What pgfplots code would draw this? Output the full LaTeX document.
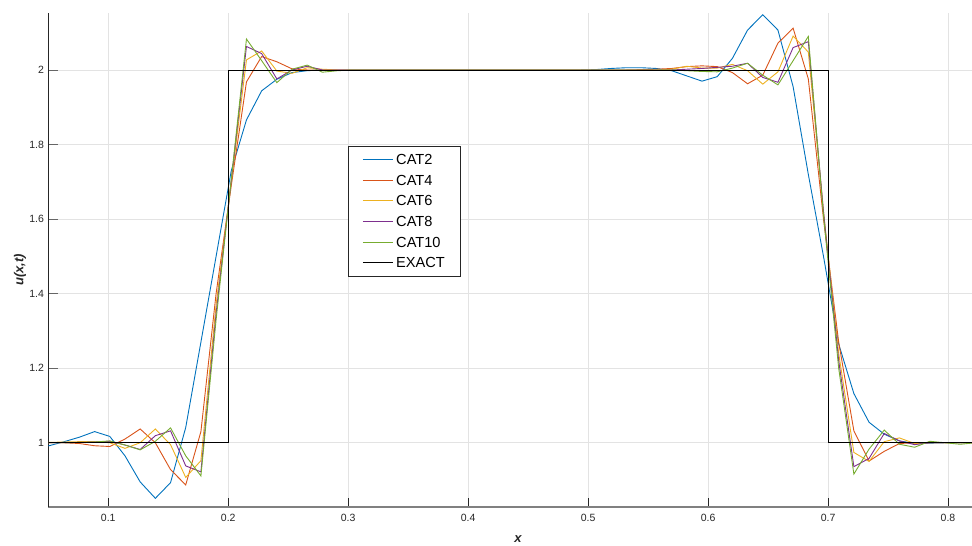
\documentclass[border=0pt]{standalone}
\usepackage{fontspec}
\setmainfont{Liberation Sans}
\usepackage{pgfplots}
\usepackage{pgfplotstable}
\pgfplotsset{compat=1.18}
\definecolor{cA}{rgb}{0,0.447,0.741}
\definecolor{cB}{rgb}{0.85,0.325,0.098}
\definecolor{cC}{rgb}{0.929,0.694,0.125}
\definecolor{cD}{rgb}{0.494,0.184,0.556}
\definecolor{cE}{rgb}{0.466,0.674,0.188}
\definecolor{axgray}{HTML}{262626}
\pgfplotstableread{
x a b c d e
0.037975 0.985 1.000 1.000 1.000 1.000
0.050633 0.992 1.000 1.001 1.000 1.000
0.063291 1.003 1.000 1.002 1.000 1.000
0.075949 1.015 0.998 1.003 1.001 1.001
0.088608 1.030 0.992 1.003 1.002 1.002
0.101266 1.017 0.990 1.000 1.004 1.005
0.113924 0.965 1.010 0.985 0.994 0.994
0.126582 0.895 1.037 1.000 0.982 0.981
0.139241 0.851 1.000 1.037 1.019 1.004
0.151899 0.893 0.928 0.995 1.032 1.040
0.164557 1.041 0.887 0.907 0.938 0.965
0.177215 1.270 1.030 0.952 0.922 0.911
0.189873 1.500 1.400 1.370 1.347 1.330
0.202532 1.730 1.690 1.700 1.704 1.707
0.215190 1.866 1.968 2.027 2.063 2.083
0.227848 1.944 2.036 2.051 2.044 2.025
0.240506 1.975 2.022 1.997 1.976 1.966
0.253165 1.993 2.003 1.991 2.000 2.002
0.265823 1.998 2.000 2.006 2.010 2.013
0.278481 2.000 2.000 2.002 2.000 1.994
0.291139 2.000 2.000 2.000 2.000 1.998
0.303797 2.000 2.000 2.000 2.000 2.000
0.316456 2.000 2.000 2.000 2.000 2.000
0.329114 2.000 2.000 2.000 2.000 2.000
0.341772 2.000 2.000 2.000 2.000 2.000
0.354430 2.000 2.000 2.000 2.000 2.000
0.367089 2.000 2.000 2.000 2.000 2.000
0.379747 2.000 2.000 2.000 2.000 2.000
0.392405 2.000 2.000 2.000 2.000 2.000
0.405063 2.000 2.000 2.000 2.000 2.000
0.417722 2.000 2.000 2.000 2.000 2.000
0.430380 2.000 2.000 2.000 2.000 2.000
0.443038 2.000 2.000 2.000 2.000 2.000
0.455696 2.000 2.000 2.000 2.000 2.000
0.468354 2.000 2.000 2.000 2.000 2.000
0.481013 2.000 2.000 2.000 2.000 2.000
0.493671 2.000 2.000 2.000 2.000 2.000
0.506329 2.001 2.000 2.000 2.000 2.000
0.518987 2.004 2.000 2.000 2.000 2.000
0.531646 2.006 2.000 2.000 2.000 2.000
0.544304 2.006 2.001 2.000 2.000 2.000
0.556962 2.004 2.002 2.000 2.000 2.000
0.569620 1.998 2.004 2.002 2.000 2.000
0.582278 1.984 2.009 2.010 2.002 1.998
0.594937 1.970 2.011 2.005 2.004 1.996
0.607595 1.982 2.009 2.005 2.007 1.995
0.620253 2.031 1.993 2.015 2.010 2.005
0.632911 2.107 1.963 1.998 2.018 2.018
0.645570 2.148 1.986 1.962 1.980 1.986
0.658228 2.107 2.072 1.995 1.967 1.960
0.670886 1.955 2.112 2.091 2.060 2.025
0.683544 1.720 1.976 2.048 2.076 2.090
0.696203 1.500 1.600 1.620 1.620 1.610
0.708861 1.265 1.270 1.240 1.220 1.200
0.721519 1.132 1.032 0.974 0.936 0.916
0.734177 1.055 0.951 0.950 0.958 0.983
0.746835 1.023 0.977 1.003 1.025 1.034
0.759494 1.005 0.998 1.013 1.005 0.996
0.772152 0.998 1.000 0.998 0.995 0.988
0.784810 0.999 1.000 1.000 1.000 1.004
0.797468 1.000 1.000 1.000 1.000 1.000
0.810127 1.000 1.000 1.000 1.000 0.996
0.822785 1.000 1.000 1.000 1.000 1.000
}\data
\begin{document}
\begin{tikzpicture}
\begin{axis}[
  name=ax,
  scale only axis,
  width=923.7bp, height=493.4bp,
  xmin=0.05, xmax=0.82, ymin=0.8285, ymax=2.152,
  axis x line=bottom, axis y line=left,
  x axis line style={-, draw=black!50, line width=1.6bp},
  y axis line style={-, draw=axgray, line width=0.9bp},
  xtick={0.1,0.2,0.3,0.4,0.5,0.6,0.7,0.8},
  ytick={1,1.2,1.4,1.6,1.8,2},
  tick align=inside,
  major tick length=9.2bp,
  xtick style={draw=axgray, line width=0.9bp},
  ytick style={draw=black!60, line width=0.9bp},
  grid=major,
  major grid style={draw=black!11, line width=0.7bp},
  tick label style={font=\fontsize{10.5bp}{12bp}\selectfont, text=axgray, /pgf/number format/assume math mode=true},
  xticklabel shift=3.5bp,
  yticklabel shift=0.8bp,
  xlabel={\bfseries\itshape x},
  ylabel={\bfseries\itshape u(x,t)},
  label style={font=\fontsize{13bp}{15bp}\selectfont, text=axgray},
  xlabel style={at={(axis description cs:0.5085,-0.073)}, anchor=base},
  ylabel style={at={(axis description cs:-0.02685,0.48)}, anchor=base},
  legend style={at={(0.3245,0.731)}, anchor=north west, draw=axgray, line width=0.6bp,
    fill=white, font=\fontsize{14.6bp}{16bp}\selectfont, inner xsep=14bp, inner ysep=7bp,
    row sep=8.7bp, column sep=2bp, nodes={inner sep=1bp, text height=10bp, text depth=0bp}},
  legend cell align=left,
  legend image code/.code={\draw[#1] (0bp,0bp) -- (30bp,0bp);},
  every axis plot/.append style={line width=0.9bp},
]
\addplot[cA] table[x=x,y=a]{\data};
\addlegendentry{CAT2}
\addplot[cB] table[x=x,y=b]{\data};
\addlegendentry{CAT4}
\addplot[cC] table[x=x,y=c]{\data};
\addlegendentry{CAT6}
\addplot[cD] table[x=x,y=d]{\data};
\addlegendentry{CAT8}
\addplot[cE] table[x=x,y=e]{\data};
\addlegendentry{CAT10}
\addplot[black] coordinates {(0.03,1) (0.2,1) (0.2,2) (0.7,2) (0.7,1) (0.83,1)};
\addlegendentry{EXACT}
\end{axis}
\pgfresetboundingbox
\path[use as bounding box] ([xshift=-48.3bp,yshift=-38.3bp]ax.south west) rectangle ([yshift=13.3bp]ax.north east);
\end{tikzpicture}
\end{document}
